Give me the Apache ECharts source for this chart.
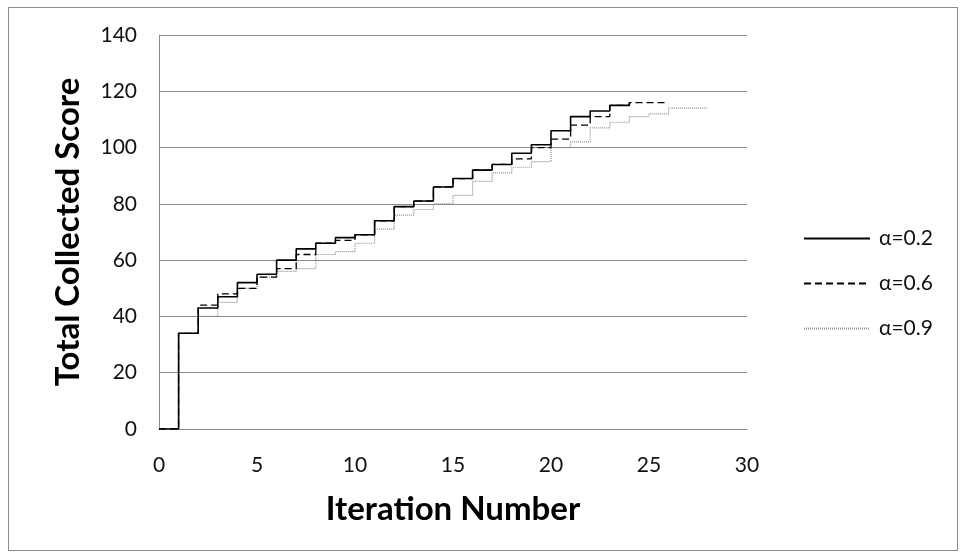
<!DOCTYPE html>
<html>
<head>
<meta charset="utf-8">
<script src="https://cdn.jsdelivr.net/npm/echarts@6/dist/echarts.min.js"></script>
<style>
  body { margin: 0; background: #fff; }
  #chart { width: 961px; height: 558px; }
  .frame { position: absolute; left: 8px; top: 7px; width: 948px; height: 542px; border: 1px solid #8c8c8c; pointer-events: none; }
</style>
</head>
<body>
<div id="chart"></div>
<div class="frame"></div>
<script>
// iteration number -> score held until the next iteration
const iters02 = [0, 1, 2, 3, 4, 5, 6, 7, 8, 9, 10, 11, 12, 13, 14, 15, 16, 17, 18, 19, 20, 21, 22, 23, 24];
const score02 = [0, 34, 43, 47, 52, 55, 60, 64, 66, 68, 69, 74, 79, 81, 86, 89, 92, 94, 98, 101, 106, 111, 113, 115, 116];

const iters06 = [0, 1, 2, 3, 4, 5, 6, 7, 8, 9, 10, 11, 12, 13, 14, 15, 16, 17, 18, 19, 20, 21, 22, 23, 24, 25, 26];
const score06 = [0, 34, 44, 48, 50, 54, 57, 62, 66, 67, 69, 74, 79, 81, 86, 89, 92, 94, 96, 100, 103, 108, 111, 115, 116, 116, 116];

const iters09 = [0, 1, 2, 3, 4, 5, 6, 7, 8, 9, 10, 11, 12, 13, 14, 15, 16, 17, 18, 19, 20, 21, 22, 23, 24, 25, 26, 27, 28];
const score09 = [0, 34, 40, 45, 50, 54, 56, 57, 62, 63, 66, 71, 76, 78, 80, 83, 88, 91, 93, 95, 100, 102, 107, 109, 111, 112, 114, 114, 114];

const seriesNames = ['α=0.2', 'α=0.6', 'α=0.9'];

const pairs = (xs, ys) => xs.map((x, i) => [x, ys[i]]);

const chart = echarts.init(document.getElementById('chart'));
const font = 'Lato, "Noto Sans", sans-serif';

chart.setOption({
  animation: false,
  textStyle: { fontFamily: font },
  grid: { left: 159, right: 214, top: 35, bottom: 129 },
  legend: {
    orient: 'vertical',
    left: 798,
    top: 223,
    itemWidth: 66,
    itemHeight: 20,
    itemGap: 24,
    itemStyle: { opacity: 0 },
    textStyle: { fontSize: 21, lineHeight: 20, color: '#111', fontFamily: font, padding: [0, 0, 0, 4] },
    data: seriesNames
  },
  xAxis: {
    type: 'value',
    min: 0,
    max: 30,
    interval: 5,
    name: 'Iteration Number',
    nameLocation: 'middle',
    nameGap: 64,
    nameTextStyle: { fontSize: 33, fontWeight: 'bold', color: '#000', fontFamily: font },
    axisLine: { lineStyle: { color: '#8a8a8a', width: 1 } },
    axisTick: { show: false },
    axisLabel: { fontSize: 21, color: '#111', margin: 26 },
    splitLine: { show: false }
  },
  yAxis: {
    type: 'value',
    min: 0,
    max: 140,
    interval: 20,
    name: 'Total Collected Score',
    nameLocation: 'middle',
    nameGap: 74,
    nameTextStyle: { fontSize: 33, fontWeight: 'bold', color: '#000', fontFamily: font },
    axisLine: { show: true, lineStyle: { color: '#8a8a8a', width: 1 } },
    axisTick: { show: false },
    axisLabel: { fontSize: 21, color: '#111', margin: 22 },
    splitLine: { lineStyle: { color: '#8a8a8a', width: 1 } }
  },
  series: [
    {
      name: seriesNames[0],
      type: 'line',
      step: 'end',
      symbol: 'none',
      lineStyle: { color: '#000', width: 1.6, type: 'solid' },
      itemStyle: { color: '#000' },
      data: pairs(iters02, score02),
      z: 4
    },
    {
      name: seriesNames[1],
      type: 'line',
      step: 'end',
      symbol: 'none',
      lineStyle: { color: '#000', width: 1.3, type: [7, 4] },
      itemStyle: { color: '#000' },
      data: pairs(iters06, score06),
      z: 3
    },
    {
      name: seriesNames[2],
      type: 'line',
      step: 'end',
      symbol: 'none',
      lineStyle: { color: '#8f8f8f', width: 1.2, type: [1, 1] },
      itemStyle: { color: '#8f8f8f' },
      data: pairs(iters09, score09),
      z: 2
    }
  ]
});
</script>
</body>
</html>
